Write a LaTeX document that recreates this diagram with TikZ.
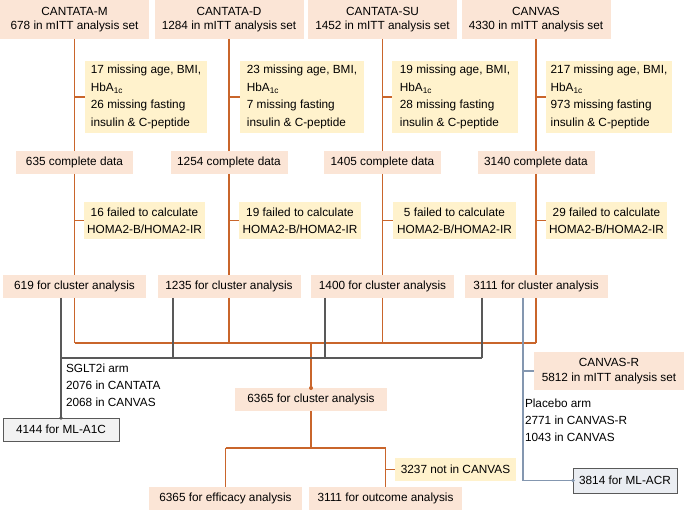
\documentclass[tikz,border=0pt]{standalone}
\usepackage{fontspec}
\setmainfont{Liberation Sans}
\definecolor{peach}{HTML}{FBE5D6}
\definecolor{ylw}{HTML}{FFF2CC}
\definecolor{org}{HTML}{C9652B}
\definecolor{dgray}{HTML}{595959}
\definecolor{bgray}{HTML}{8497B0}
\definecolor{lgray}{HTML}{F2F2F2}
\definecolor{lblue}{HTML}{EAEDF2}
\begin{document}
\begin{tikzpicture}[x=1pt,y=-1pt,
  base/.style={inner sep=0pt, outer sep=0pt, font=\fontsize{11.8}{14.5}\selectfont},
  pbox/.style={base, fill=peach, align=center, minimum height=23pt},
  tbox/.style={base, fill=peach, align=center, minimum height=39pt, minimum width=149pt},
  ybox/.style={base, fill=ylw, align=left, minimum height=72pt, font=\fontsize{11.8}{17.5}\selectfont},
  yctr/.style={base, fill=ylw, align=center, minimum height=37pt, font=\fontsize{11.8}{17}\selectfont},
  txt/.style={base, align=left, font=\fontsize{11.8}{17.3}\selectfont},
  mlbox/.style={base, draw=dgray, line width=0.9pt, minimum height=23pt},
  oline/.style={draw=org, line width=1.4pt},
  gline/.style={draw=dgray, line width=1.1pt},
  bline/.style={draw=bgray, line width=1.2pt},
]
\useasboundingbox (0,0) rectangle (685,510);

% top boxes
\node[tbox] (tM) at (74.5,19.5) {CANTATA-M\\678 in mITT analysis set};
\node[tbox] (tD) at (229,19.5) {CANTATA-D\\1284 in mITT analysis set};
\node[tbox] (tS) at (382.5,19.5) {CANTATA-SU\\1452 in mITT analysis set};
\node[tbox] (tC) at (536,19.5) {CANVAS\\4330 in mITT analysis set};

% missing boxes
\node[ybox, minimum width=122pt] (yM) at (146,97) {17 missing age, BMI,\\HbA\textsubscript{1c}\\26 missing fasting\\insulin \& C-peptide};
\node[ybox, minimum width=124pt] (yD) at (302,97) {23 missing age, BMI,\\HbA\textsubscript{1c}\\7 missing fasting\\insulin \& C-peptide};
\node[ybox, minimum width=126pt] (yS) at (455,97) {19 missing age, BMI,\\HbA\textsubscript{1c}\\28 missing fasting\\insulin \& C-peptide};
\node[ybox, minimum width=126pt] (yC) at (609,97) {217 missing age, BMI,\\HbA\textsubscript{1c}\\973 missing fasting\\insulin \& C-peptide};

% complete data
\node[pbox, minimum width=117pt] (cM) at (74.5,162.5) {635 complete data};
\node[pbox, minimum width=117pt] (cD) at (229,162.5) {1254 complete data};
\node[pbox, minimum width=117pt] (cS) at (382.5,162.5) {1405 complete data};
\node[pbox, minimum width=117pt] (cC) at (536,162.5) {3140 complete data};

% failed boxes
\node[yctr, minimum width=121pt] (fM) at (144.5,220.5) {16 failed to calculate\\HOMA2-B/HOMA2-IR};
\node[yctr, minimum width=122pt] (fD) at (300,220.5) {19 failed to calculate\\HOMA2-B/HOMA2-IR};
\node[yctr, minimum width=123pt] (fS) at (454.5,220.5) {5 failed to calculate\\HOMA2-B/HOMA2-IR};
\node[yctr, minimum width=121pt] (fC) at (606.5,220.5) {29 failed to calculate\\HOMA2-B/HOMA2-IR};

% cluster analysis
\node[pbox, minimum width=143pt] (kM) at (74.5,286.5) {619 for cluster analysis};
\node[pbox, minimum width=143pt] (kD) at (229,286.5) {1235 for cluster analysis};
\node[pbox, minimum width=143pt] (kS) at (382.5,286.5) {1400 for cluster analysis};
\node[pbox, minimum width=143pt] (kC) at (536,286.5) {3111 for cluster analysis};

% lower part
\node[pbox, minimum width=152pt] (all) at (311,399.5) {6365 for cluster analysis};
\node[pbox, minimum width=153pt] (eff) at (225.5,498.5) {6365 for efficacy analysis};
\node[pbox, minimum width=153pt] (out) at (385.5,498.5) {3111 for outcome analysis};
\node[yctr, minimum width=121pt, minimum height=23pt] (nc) at (455.5,469.5) {3237 not in CANVAS};
\node[tbox, minimum width=150pt, minimum height=38pt] (cr) at (609,371) {CANVAS-R\\5812 in mITT analysis set};
\node[mlbox, fill=lgray, minimum width=116pt] (a1c) at (61,429.5) {4144 for ML-A1C};
\node[mlbox, fill=lblue, minimum width=104pt, minimum height=25pt] (acr) at (625,480.5) {3814 for ML-ACR};

\node[txt, anchor=north west] (sg) at (66,363.5) {SGLT2i arm\\2076 in CANTATA\\2068 in CANVAS};
\node[txt, anchor=north west] (pl) at (525,398.5) {Placebo arm\\2771 in CANVAS-R\\1043 in CANVAS};

% orange lines
\coordinate (oj) at (311,343);
\foreach \n in {M,D,S,C}{
  \draw[oline] (t\n.south) -- (c\n.north);
  \draw[oline] (t\n.south |- y\n.west) -- (y\n.west);
  \draw[oline] (c\n.south) -- (k\n.north);
  \draw[oline] (c\n.south |- f\n.west) -- (f\n.west);
  \draw[oline] (k\n.south) -- (k\n.south |- oj);
}
\draw[oline] (kM.south |- oj) -- (kC.south |- oj);
\draw[oline] (oj) -- (all.north);
\fill[org] (all.north) circle (2pt);
\coordinate (lj) at (311,448);
\draw[oline] (all.south) -- (lj);
\draw[oline] (eff.north |- lj) -- (out.north |- lj);
\draw[oline] (eff.north |- lj) -- (eff.north);
\draw[oline] (out.north |- lj) -- (out.north);
\draw[oline] (out.north |- nc.west) -- (nc.west);

% gray lines
\coordinate (gj) at (0,358);
\draw[gline] ([xshift=-13.5pt]kM.south) -- (a1c.north);
\fill[dgray] (a1c.north) circle (1.8pt);
\draw[gline] ([xshift=-56pt]kD.south) -- ([xshift=-56pt]kD.south |- gj);
\draw[gline] ([xshift=-57.5pt]kS.south) -- ([xshift=-57.5pt]kS.south |- gj);
\draw[gline] ([xshift=-54pt]kC.south) -- ([xshift=-54pt]kC.south |- gj);
\draw[gline] (a1c.north |- gj) -- ([xshift=-54pt]kC.south |- gj);

% blue-gray lines
\draw[bline] ([xshift=-13pt]kC.south) |- (acr.west);
\fill[bgray] (acr.west) circle (1.8pt);
\draw[bline] ([xshift=-13pt]kC.south |- cr.west) -- (cr.west);
\end{tikzpicture}
\end{document}
